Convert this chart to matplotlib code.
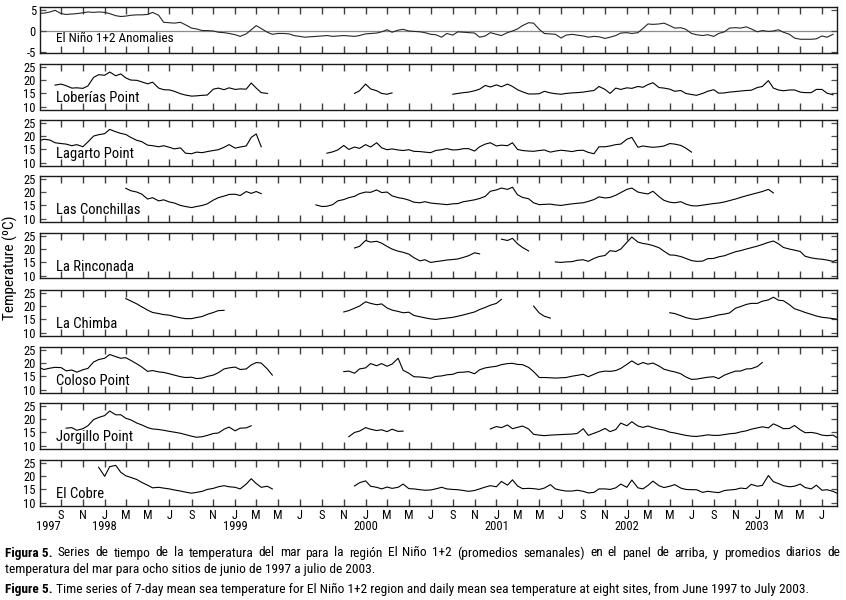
import matplotlib
matplotlib.use("Agg")
import matplotlib.pyplot as plt
import matplotlib.transforms as mtransforms
from matplotlib import font_manager as fm
import pandas as pd


def pick(fams):
    for f in fams:
        try:
            fm.findfont(fm.FontProperties(family=f), fallback_to_default=False)
            return f
        except Exception:
            pass
    return "DejaVu Sans"


NARROW = pick(["Liberation Sans Narrow", "Roboto Condensed", "DejaVu Sans Condensed", "Liberation Sans"])
plt.rcParams['font.family'] = [NARROW, 'DejaVu Sans']

# ---------------- data (semi-monthly samples) ----------------
anom_start = "1997-07-01"
anomalies = [4.3, 4.3, 4.6, 5.0, 4.2, 4.0, 4.1, 4.2, 4.4, 4.6,
             4.5, 4.6, 4.5, 4.2, 3.7, 3.5, 3.6, 3.8, 3.9, 3.9,
             4.0, 4.5, 3.8, 2.1, 2.0, 1.9, 2.1, 1.5, 0.7, 0.5,
             0.1, 0.1, 0.0, -0.3, -0.4, -0.6, -0.9, -1.3, -0.7, 0.3,
             1.3, 0.6, -0.3, -0.8, -0.6, -0.6, -0.7, -1.1, -1.3, -1.5,
             -1.4, -1.3, -1.2, -1.1, -1.3, -1.2, -1.1, -1.2, -1.3, -1.1,
             -0.7, -0.6, -0.5, -0.2, 0.3, -0.3, 0.2, 0.4, 0.0, -0.1,
             -0.2, -0.4, -0.8, -0.9, -1.5, -0.6, -1.0, -0.2, -0.3, -0.4,
             -0.5, -1.5, -1.2, -0.4, -0.8, -1.1, -0.4, 0.0, 0.5, 1.3,
             2.0, 1.9, 0.4, -0.6, -0.7, -0.8, -1.7, -1.0, -0.8, -1.0,
             -1.2, -1.5, -1.3, -1.4, -1.8, -1.5, -1.1, -0.5, -0.4, -0.6,
             -0.4, 0.6, 1.7, 1.6, 1.7, 1.9, 1.3, 0.7, 0.8, 0.4,
             -0.6, -0.9, -1.1, -0.9, -1.3, -0.6, -0.2, 0.7, 0.8, 0.7,
             1.0, 0.5, -0.2, 0.1, -0.1, 0.0, 0.3, -0.3, -0.8, -1.7,
             -2.0, -2.0, -2.0, -1.9, -1.2, -1.5, -0.8]

loberias_starts = ["1997-08-15", "1999-12-01", "2000-09-01"]
loberias_1 = [18.1, 18.5, 17.9, 17.0, 17.1, 16.9, 17.8, 21.0, 22.0, 21.8, 23.0, 21.6, 22.3, 20.8,
              20.0, 19.9, 19.3, 18.6, 19.2, 17.0, 16.4, 16.3, 15.8, 14.9, 14.4, 14.0, 14.1, 14.3,
              14.4, 16.6, 17.0, 16.4, 17.1, 16.5, 16.7, 16.6, 18.9, 17.0, 15.3, 15.0]
loberias_2 = [15.0, 16.0, 18.5, 16.7, 16.0, 15.0, 14.7, 15.2]
loberias_3 = [14.7, 15.0, 15.3, 15.5, 16.0, 16.6, 18.0, 17.4, 18.2, 17.5, 18.5, 17.6, 16.4, 15.6,
              14.8, 14.8, 14.9, 15.8, 15.2, 14.9, 14.7, 15.0, 15.2, 15.3, 15.5, 15.8, 16.1, 17.6,
              16.5, 15.0, 17.0, 16.5, 17.1, 16.9, 17.6, 17.3, 18.3, 19.0, 17.2, 17.0, 16.6, 15.8,
              16.1, 15.0, 14.6, 14.3, 15.0, 15.8, 16.4, 15.1, 15.2, 15.5, 15.7, 15.9, 16.1, 16.2,
              17.2, 17.6, 19.8, 17.0, 16.3, 16.0, 16.3, 16.3, 15.5, 15.3, 15.3, 16.5, 16.5, 15.1,
              14.5]

lagarto_starts = ["1997-07-01", "1999-09-15"]
lagarto_1 = [18.2, 18.8, 18.5, 17.5, 17.2, 17.0, 16.4, 16.8, 16.0, 17.8, 20.0, 20.5, 20.9, 22.5,
             21.6, 21.0, 20.6, 19.5, 18.4, 17.9, 16.6, 16.4, 16.0, 16.4, 15.8, 15.2, 15.6, 13.6,
             13.4, 14.0, 13.8, 14.2, 14.6, 14.9, 15.8, 16.8, 15.5, 15.9, 16.3, 19.5, 20.8, 16.0]
lagarto_2 = [13.6, 14.1, 14.8, 16.5, 15.0, 15.9, 15.4, 16.8, 15.9, 17.5, 15.6, 14.9, 15.2, 14.8,
             14.6, 14.9, 14.3, 14.2, 14.0, 13.8, 14.6, 14.9, 15.3, 14.8, 14.9, 15.3, 15.3, 14.4,
             16.0, 17.0, 17.5, 16.3, 16.6, 16.4, 17.5, 15.0, 14.6, 14.4, 14.3, 14.6, 14.8, 14.0,
             14.4, 14.7, 14.5, 14.2, 14.6, 14.7, 13.9, 13.4, 16.0, 16.0, 16.3, 16.8, 17.0, 18.8,
             19.5, 15.8, 16.3, 16.0, 15.8, 16.0, 16.3, 17.2, 17.0, 16.5, 15.5, 14.0]

conchillas_starts = ["1998-03-01", "1999-08-15"]
conchillas_1 = [21.4, 20.5, 20.0, 19.2, 17.4, 17.9, 16.7, 17.1, 16.3, 15.9, 15.0, 14.6, 14.2,
                14.6, 15.0, 15.6, 17.0, 17.9, 18.5, 19.1, 19.2, 18.7, 20.2, 19.5, 20.2, 19.4]
conchillas_2 = [15.2, 14.6, 14.7, 15.3, 16.7, 17.2, 17.9, 18.4, 19.4, 20.0, 19.9, 20.8, 19.8, 20.0,
                18.6, 17.9, 17.6, 17.0, 16.2, 16.0, 16.4, 15.9, 15.7, 15.5, 15.3, 15.6, 15.7, 16.4,
                16.7, 17.1, 17.6, 18.4, 20.3, 20.8, 21.5, 21.0, 21.8, 19.0, 18.0, 17.5, 16.0, 15.3,
                15.4, 15.5, 15.2, 15.0, 15.3, 15.6, 15.8, 16.0, 16.5, 17.2, 18.2, 17.8, 18.0, 18.8,
                19.8, 21.0, 21.5, 20.0, 19.6, 19.3, 20.3, 18.3, 16.9, 16.2, 16.0, 16.4, 15.5, 14.9,
                14.8, 15.1, 15.4, 15.7, 15.9, 16.3, 16.8, 17.4, 18.0, 18.6, 19.1, 19.7, 20.2, 21.0,
                19.7]

rinconada_starts = ["1999-12-01", "2001-01-15", "2001-06-15"]
rinconada_1 = [20.4, 21.0, 23.2, 22.6, 22.9, 22.2, 21.0, 20.0, 19.2, 18.8, 18.1, 16.8, 15.6, 16.0,
               15.0, 15.3, 15.6, 15.9, 16.1, 16.3, 16.9, 17.5, 18.6, 18.2]
rinconada_2 = [23.7, 23.2, 24.0, 22.0, 20.6, 19.3]
rinconada_3 = [15.2, 15.0, 15.2, 15.3, 15.8, 16.0, 15.4, 16.5, 17.2, 17.6, 19.4, 19.1, 20.0, 22.5,
               24.5, 22.6, 22.1, 21.8, 21.3, 20.5, 19.2, 17.8, 17.7, 17.2, 16.5, 15.7, 15.4, 15.5,
               16.4, 16.5, 17.1, 17.5, 18.2, 19.0, 19.4, 20.0, 20.5, 21.1, 21.7, 22.5, 23.0, 22.0,
               20.6, 20.0, 19.6, 19.1, 17.3, 16.7, 16.4, 16.2, 15.9, 15.4, 16.0]

chimba_starts = ["1998-03-01", "1999-11-01", "2001-04-15", "2002-05-01"]
chimba_1 = [22.8, 21.9, 20.8, 19.7, 18.5, 17.6, 17.2, 16.8, 16.6, 16.1, 15.6, 15.3, 15.3, 15.7,
            16.1, 16.9, 17.6, 18.3, 18.4]
chimba_2 = [17.8, 18.3, 19.2, 20.0, 21.6, 21.0, 20.5, 20.8, 19.3, 18.5, 18.0, 17.5, 17.7, 16.5,
            16.0, 15.6, 15.2, 15.0, 15.3, 15.5, 15.8, 16.2, 16.7, 17.2, 17.8, 18.7, 19.5, 20.3,
            21.0, 22.5]
chimba_3 = [20.0, 17.4, 16.2, 15.5]
chimba_4 = [17.5, 17.2, 16.4, 15.7, 15.2, 15.0, 15.4, 15.7, 16.2, 16.7, 17.0, 17.4, 19.2, 19.8,
            20.6, 21.0, 21.0, 21.8, 22.3, 23.3, 22.2, 22.0, 20.5, 19.0, 18.3, 17.6, 16.9, 16.3,
            15.8, 15.6, 15.3, 15.0]

coloso_starts = ["1997-07-01", "1999-11-01"]
coloso_1 = [18.4, 17.6, 18.1, 18.4, 18.3, 17.1, 17.4, 16.6, 17.5, 18.0, 20.4, 21.3, 21.8, 23.2,
            22.4, 21.8, 22.0, 21.0, 19.7, 18.5, 16.9, 17.2, 16.7, 16.5, 16.0, 15.5, 14.9, 14.6,
            14.7, 14.2, 14.4, 15.0, 15.5, 16.4, 17.8, 18.2, 18.5, 17.6, 17.8, 19.3, 20.2, 20.0,
            17.8, 15.5]
coloso_2 = [16.8, 17.0, 16.2, 17.8, 18.2, 19.8, 19.0, 19.8, 18.8, 19.6, 21.8, 17.3, 16.2, 14.9,
            14.8, 14.6, 14.3, 15.0, 15.2, 15.6, 15.8, 16.5, 16.6, 16.8, 16.0, 17.5, 18.2, 18.5,
            18.8, 19.4, 19.8, 19.9, 19.5, 19.4, 18.4, 16.8, 14.6, 14.6, 14.5, 14.4, 14.5, 14.6,
            15.1, 15.4, 15.8, 14.9, 15.8, 16.6, 17.0, 16.9, 17.2, 18.0, 19.5, 20.8, 19.4, 20.2,
            19.6, 20.0, 18.9, 17.7, 17.1, 16.7, 16.0, 14.8, 13.9, 14.0, 14.4, 14.7, 14.9, 14.2,
            15.5, 16.2, 17.0, 17.0, 17.8, 17.9, 18.7, 20.2]

jorgillo_starts = ["1997-09-15", "1999-11-15", "2000-12-15"]
jorgillo_1 = [16.6, 16.8, 15.8, 16.4, 17.5, 19.8, 20.6, 21.3, 23.0, 21.6, 21.6, 20.3, 19.7, 18.5,
              17.8, 16.8, 16.3, 16.1, 15.8, 15.4, 15.1, 14.7, 14.2, 13.6, 13.2, 13.4, 13.9, 14.6,
              14.8, 16.2, 17.0, 15.6, 16.6, 16.7, 17.5]
jorgillo_2 = [13.4, 15.0, 15.5, 16.8, 16.2, 15.7, 16.0, 15.3, 16.2, 15.4, 15.5]
jorgillo_3 = [16.3, 17.2, 16.8, 17.8, 16.4, 16.9, 17.4, 16.3, 14.3, 14.0, 13.8, 14.0, 14.1, 14.2,
              14.3, 14.4, 14.6, 16.4, 13.9, 14.7, 15.4, 16.5, 15.3, 16.1, 18.5, 17.5, 19.0, 17.4,
              16.9, 17.4, 16.8, 16.2, 15.9, 15.1, 14.8, 14.3, 13.9, 13.6, 13.5, 13.8, 14.1, 13.9,
              13.9, 14.2, 14.5, 14.7, 15.2, 15.6, 16.2, 16.7, 17.1, 16.7, 18.2, 17.4, 16.4, 16.5,
              17.6, 16.0, 14.9, 15.0, 14.7, 14.0, 13.8, 14.0, 12.8]

cobre_starts = ["1997-12-15", "1999-12-01"]
cobre_1 = [23.3, 19.9, 23.5, 24.0, 21.4, 20.1, 19.5, 18.7, 17.6, 16.6, 15.6, 15.8, 15.5, 15.2,
           14.8, 14.4, 14.0, 13.6, 13.9, 14.3, 15.0, 15.4, 16.0, 16.4, 16.0, 15.8, 15.2, 17.0,
           19.0, 17.2, 15.8, 16.2, 15.2]
cobre_2 = [16.3, 17.5, 18.2, 16.2, 15.8, 15.2, 15.9, 15.4, 15.8, 17.0, 15.3, 15.2, 14.9, 14.7,
           14.8, 15.2, 15.8, 15.2, 15.0, 14.9, 14.6, 14.3, 14.6, 15.2, 15.9, 16.4, 16.0, 18.0,
           16.6, 18.6, 16.3, 15.3, 15.4, 15.3, 15.0, 15.5, 16.8, 15.2, 14.7, 14.4, 14.4, 14.7,
           14.3, 13.7, 13.9, 15.2, 15.2, 15.0, 15.6, 17.0, 15.8, 18.5, 15.6, 15.2, 16.5, 18.1,
           16.4, 15.7, 16.2, 16.8, 15.5, 15.0, 14.9, 14.9, 13.9, 14.3, 14.0, 13.8, 14.6, 14.8,
           15.0, 15.5, 15.3, 16.9, 16.2, 16.5, 20.2, 17.9, 17.2, 16.4, 16.0, 16.2, 17.0, 15.7,
           15.2, 16.6, 14.7, 14.9, 14.3, 13.4]

site_names = ["Loberías Point", "Lagarto Point", "Las Conchillas", "La Rinconada",
              "La Chimba", "Coloso Point", "Jorgillo Point", "El Cobre"]
site_segments = [
    (loberias_starts, [loberias_1, loberias_2, loberias_3]),
    (lagarto_starts, [lagarto_1, lagarto_2]),
    (conchillas_starts, [conchillas_1, conchillas_2]),
    (rinconada_starts, [rinconada_1, rinconada_2, rinconada_3]),
    (chimba_starts, [chimba_1, chimba_2, chimba_3, chimba_4]),
    (coloso_starts, [coloso_1, coloso_2]),
    (jorgillo_starts, [jorgillo_1, jorgillo_2, jorgillo_3]),
    (cobre_starts, [cobre_1, cobre_2]),
]
year_labels = ["1997", "1998", "1999", "2000", "2001", "2002", "2003"]
year_dates = ["1997-07-27", "1998-01-01", "1999-01-01", "2000-01-01",
              "2001-01-01", "2002-01-01", "2003-01-01"]
temp_ticks = [10, 15, 20, 25]
anom_ticks = [-5, 0, 5]

caption_es_bold = "Figura 5."
caption_es_1 = ("Series de tiempo de la temperatura del mar para la región El Niño 1+2 "
                "(promedios semanales) en el panel de arriba, y promedios diarios de")
caption_es_2 = "temperatura del mar para ocho sitios de junio de 1997 a julio de 2003."
caption_en_bold = "Figure 5."
caption_en_1 = (" Time series of 7-day mean sea temperature for El Niño 1+2 region and daily "
                "mean sea temperature at eight sites, from June 1997 to July 2003.")

# ---------------- figure ----------------
W, H = 846, 600
fig = plt.figure(figsize=(W / 100, H / 100), dpi=100)
tops = [7, 64, 120, 176, 233, 290, 347, 403, 460]
ph = 45.5
xl = (pd.Timestamp("1997-07-04"), pd.Timestamp("2003-08-12"))
xticks = pd.date_range("1997-09-01", "2003-07-01", freq="2MS")
xtick_labels = [d.strftime("%b")[0] for d in xticks]

axes = []
for i, top in enumerate(tops):
    ax = fig.add_axes([40 / W, 1 - (top + ph) / H, 797 / W, ph / H])
    axes.append(ax)
    ax.set_xlim(*xl)
    ax.set_xticks(xticks)
    ax.tick_params(axis='x', direction='in', top=True, bottom=True, length=5,
                   width=1.0, color='0.25', labelbottom=(i == len(tops) - 1),
                   labelsize=9, pad=2.5)
    ax.tick_params(axis='y', direction='in', left=True, right=True, length=4,
                   width=0.9, color='0.3', labelsize=9, pad=3)
    for s in ax.spines.values():
        s.set_linewidth(1.0)
        s.set_color('0.1')
    if i == len(tops) - 1:
        ax.set_xticklabels(xtick_labels)

# anomalies panel
ax0 = axes[0]
ad = pd.date_range(anom_start, periods=len(anomalies), freq="SMS")
ax0.axhline(0, color='0.55', lw=0.9, zorder=1)
ax0.plot(ad, anomalies, color='0.15', lw=0.8, zorder=2)
ax0.set_ylim(-5.2, 5.8)
ax0.set_yticks(anom_ticks)
ax0.set_yticklabels([str(t) for t in anom_ticks])
ax0.text(0.02, 0.3, "El Niño 1+2 Anomalies", transform=ax0.transAxes,
         fontsize=9.5, va='center', ha='left')

for ax, name, (starts, segs) in zip(axes[1:], site_names, site_segments):
    for st, vals in zip(starts, segs):
        d = pd.date_range(st, periods=len(vals), freq="SMS")
        ax.plot(d, vals, color='black', lw=0.8)
    ax.set_ylim(9, 26)
    ax.set_yticks(temp_ticks)
    ax.set_yticklabels([str(t) for t in temp_ticks])
    ax.text(0.02, 0.26, name, transform=ax.transAxes, fontsize=10.5,
            va='center', ha='left')

# year labels under the bottom panel
axb = axes[-1]
trans = mtransforms.blended_transform_factory(axb.transData, fig.transFigure)
for lab, dt in zip(year_labels, year_dates):
    axb.text(pd.Timestamp(dt), 1 - 527 / H, lab, transform=trans, ha='center',
             va='center', fontsize=9)

fig.text(10 / W, 1 - 268 / H, "Temperature (ºC)", rotation=90, va='center',
         ha='center', fontsize=11)

# caption
renderer = fig.canvas.get_renderer()
CFS = 9.6


def caption_line(y_px, bold, rest):
    t = fig.text(5 / W, 1 - y_px / H, bold, fontweight='bold', fontsize=CFS,
                 va='center', ha='left')
    bb = t.get_window_extent(renderer=renderer)
    fig.text(bb.x1 / W, 1 - y_px / H, rest, fontsize=CFS, va='center', ha='left')


def justified_line(y_px, bold, rest, x0_px, x1_px):
    pieces = [(bold, 'bold')] + [(w, 'normal') for w in rest.split()]
    texts = []
    total = 0.0
    for s, wt in pieces:
        t = fig.text(0, 1 - y_px / H, s, fontweight=wt, fontsize=CFS,
                     va='center', ha='left')
        w = t.get_window_extent(renderer=renderer).width
        texts.append((t, w))
        total += w
    gap = (x1_px - x0_px - total) / (len(pieces) - 1)
    x = x0_px
    for t, w in texts:
        t.set_x(x / W)
        x += w + gap


justified_line(553, caption_es_bold, caption_es_1, 5, 840)
fig.text(5 / W, 1 - 570 / H, caption_es_2, fontsize=CFS, va='center', ha='left')
caption_line(589, caption_en_bold, caption_en_1)

fig.savefig("out.png", dpi=100)
